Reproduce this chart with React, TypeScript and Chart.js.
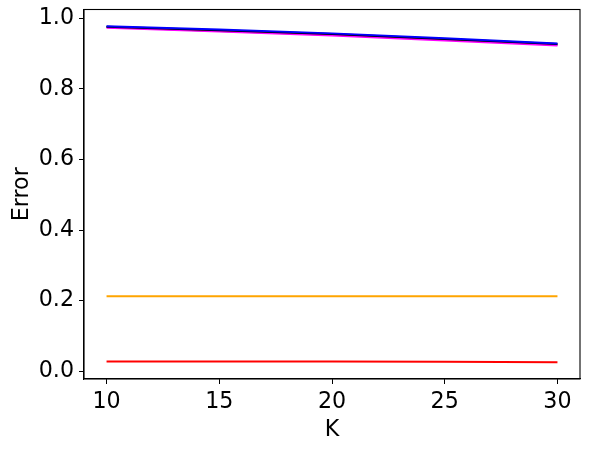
import React, { useEffect, useRef } from "react";
import { Chart, registerables } from "chart.js";

Chart.register(...registerables);

const kValues = [10, 15, 20, 25, 30];
const blueSeries = [0.977, 0.968, 0.957, 0.943, 0.928];
const blackSeries = [0.976, 0.966, 0.955, 0.941, 0.927];
const greenSeries = [0.975, 0.964, 0.953, 0.94, 0.925];
const magentaSeries = [0.973, 0.962, 0.951, 0.937, 0.923];
const orangeSeries = [0.213, 0.213, 0.213, 0.213, 0.213];
const redSeries = [0.028, 0.028, 0.028, 0.027, 0.026];
const xTicks = [10, 15, 20, 25, 30];
const yTicks = [0.0, 0.2, 0.4, 0.6, 0.8, 1.0];

const FONT = "'DejaVu Sans', sans-serif";
const FS = 22.2;

const frame = {
  id: "frame",
  afterDatasetsDraw(chart: any) {
    const { ctx, chartArea } = chart;
    ctx.save();
    ctx.strokeStyle = "#000";
    ctx.lineWidth = 1.1;
    ctx.strokeRect(chartArea.left, chartArea.top, chartArea.right - chartArea.left, chartArea.bottom - chartArea.top);
    ctx.restore();
  },
};

export default function App() {
  const ref = useRef<HTMLCanvasElement>(null);
  useEffect(() => {
    const mk = (label: string, data: number[], color: string) => ({
      label,
      data: kValues.map((k, i) => ({ x: k, y: data[i] })),
      borderColor: color,
      backgroundColor: color,
      borderWidth: 2,
      pointRadius: 0,
      fill: false,
      tension: 0,
    });
    const chart = new Chart(ref.current!, {
      type: "line",
      data: {
        datasets: [
          mk("blue", blueSeries, "#0000ff"),
          mk("black", blackSeries, "#000000"),
          mk("magenta", magentaSeries, "#ff00ff"),
          mk("green", greenSeries, "#008000"),
          mk("orange", orangeSeries, "#ffa500"),
          mk("red", redSeries, "#ff0000"),
        ],
      },
      options: {
        animation: false,
        responsive: false,
        maintainAspectRatio: false,
        layout: { padding: { top: 9.5, right: 9, left: 8.5, bottom: 6.5 } },
        plugins: { legend: { display: false }, tooltip: { enabled: false } },
        scales: {
          x: {
            type: "linear",
            min: 9,
            max: 31,
            afterFit: (s: any) => { s.height = 64.5; s.paddingLeft = 0; s.paddingRight = 0; },
            afterBuildTicks: (s: any) => { s.ticks = xTicks.map((v) => ({ value: v })); },
            grid: { drawOnChartArea: false, tickLength: 5, tickColor: "#000", color: "#000" },
            border: { color: "#000", width: 1.1 },
            ticks: {
              color: "#000",
              font: { family: FONT, size: FS },
              padding: 5,
              maxRotation: 0,
              callback: (v: any) => String(v),
            },
            title: { display: true, text: "K", color: "#000", font: { family: FONT, size: FS }, padding: { top: 0, bottom: 0 } },
          },
          y: {
            type: "linear",
            min: -0.0216,
            max: 1.0246,
            afterFit: (s: any) => { s.width = 75.5; s.paddingTop = 0; s.paddingBottom = 0; },
            afterBuildTicks: (s: any) => { s.ticks = yTicks.map((v) => ({ value: v })); },
            grid: { drawOnChartArea: false, tickLength: 5, tickColor: "#000", color: "#000" },
            border: { color: "#000", width: 1.1 },
            ticks: {
              color: "#000",
              font: { family: FONT, size: FS },
              padding: 5,
              callback: (v: any) => Number(v).toFixed(1),
            },
            title: { display: true, text: "Error", color: "#000", font: { family: FONT, size: FS }, padding: { top: 0, bottom: 0 } },
          },
        },
      },
      plugins: [frame],
    });
    return () => chart.destroy();
  }, []);
  return (
    <div style={{ position: "fixed", left: 0, top: 0, width: 589, height: 450, background: "#fff" }}>
      <canvas ref={ref} width={589} height={450} style={{ width: 589, height: 450 }} />
    </div>
  );
}
